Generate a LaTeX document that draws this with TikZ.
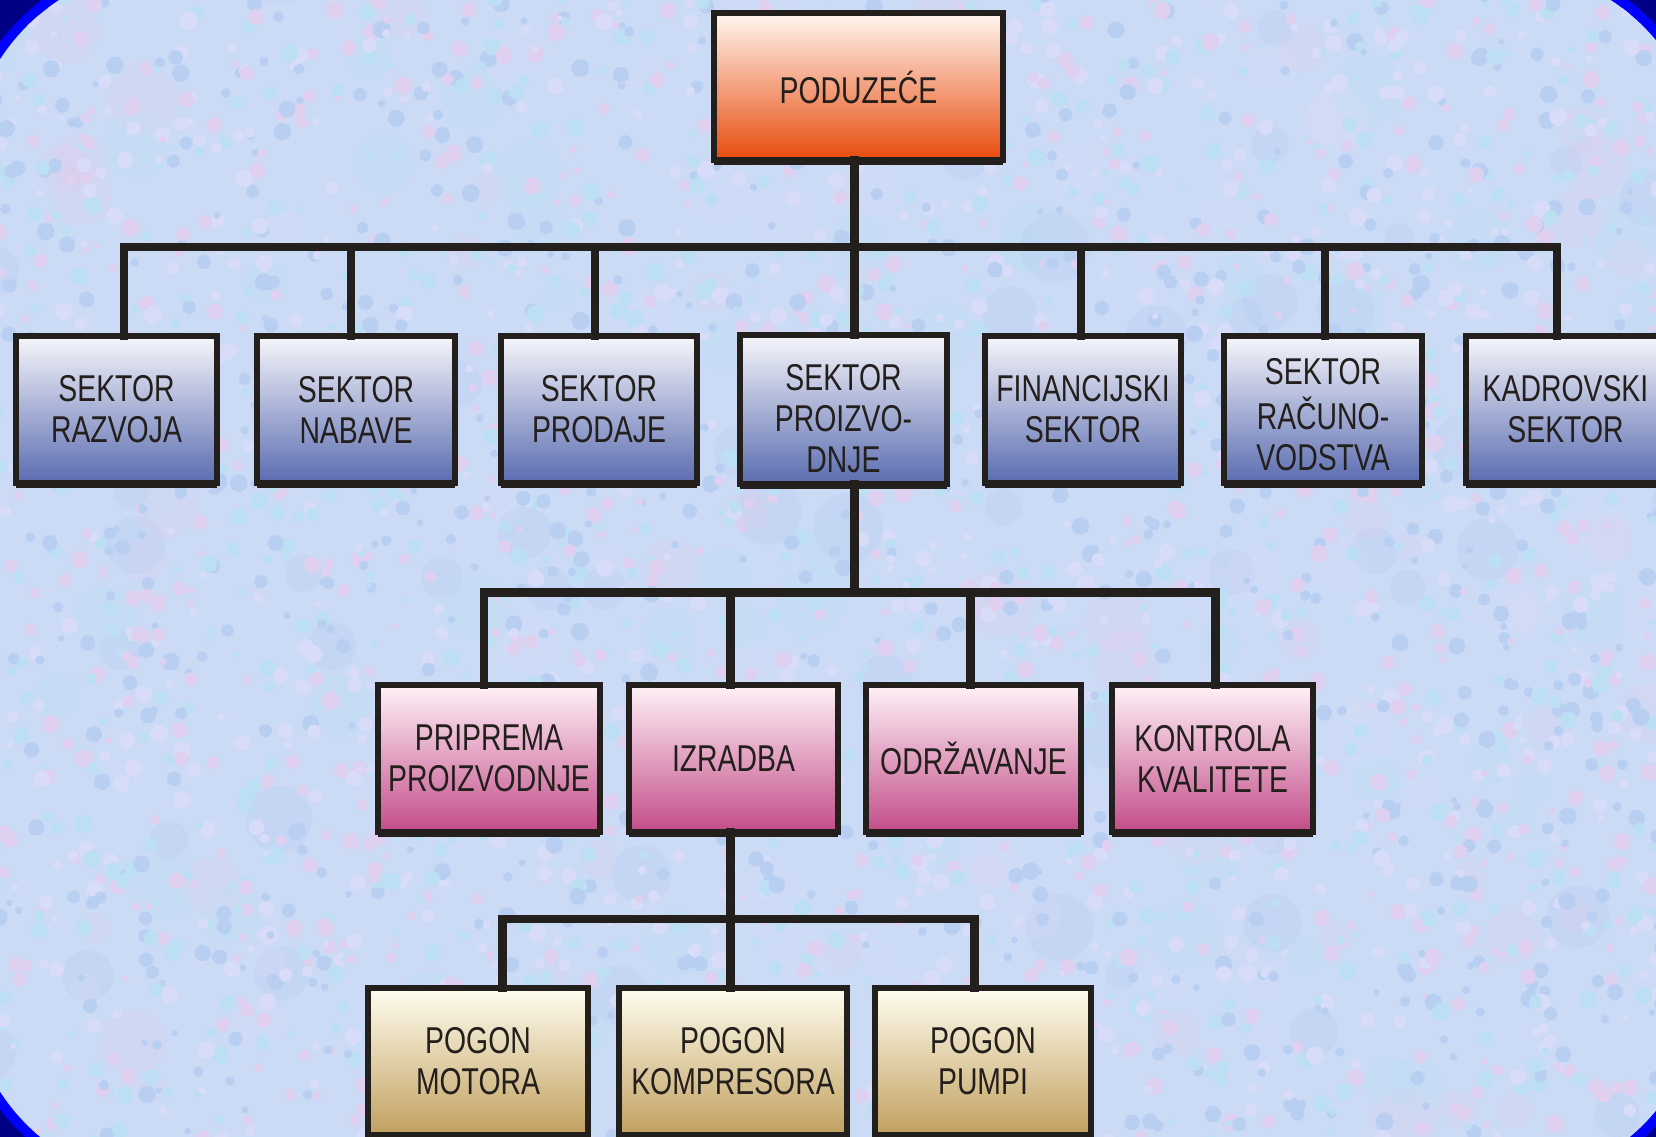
\documentclass[tikz,border=0pt]{standalone}
\usepackage{fontspec}
\setmainfont{Liberation Sans}[FakeStretch=0.76]
\usetikzlibrary{shadows}

\definecolor{ink}{HTML}{231F1C}
\definecolor{navy}{HTML}{000084}
\definecolor{frameblue}{HTML}{0000FF}
\definecolor{paper}{HTML}{CBDBF6}
\definecolor{tex0}{HTML}{F0C4E6}
\definecolor{tex1}{HTML}{AEE2F2}
\definecolor{tex2}{HTML}{A8C2EE}
\definecolor{tex3}{HTML}{E2DCFA}
\colorlet{dot0}{tex0!50!paper}
\colorlet{dot1}{tex1!50!paper}
\colorlet{dot2}{tex2!50!paper}
\colorlet{dot3}{tex3!60!paper}
\definecolor{headtop}{HTML}{FFF6F0}
\definecolor{headbot}{HTML}{E84A0C}
\definecolor{bluetop}{HTML}{F6F6FB}
\definecolor{bluebot}{HTML}{5A6CB0}
\definecolor{pinktop}{HTML}{FFF2F8}
\definecolor{pinkbot}{HTML}{C24C88}
\definecolor{tantop}{HTML}{FFFDF0}
\definecolor{tanbot}{HTML}{C1A05E}

% three-line label pushed slightly below the box centre
\newcommand\droptext[2]{\raisebox{0pt}[\dimexpr\height+#1\relax][\depth]{\begin{tabular}{@{}c@{}}#2\end{tabular}}}

\begin{document}
\begin{tikzpicture}[x=0.75pt,y=-0.75pt,
  box/.style={draw=ink, line width=4.5pt, inner sep=0pt, outer sep=0pt,
    align=center, text=ink, font=\fontsize{28}{30.75}\selectfont,
    minimum height=110.25pt,
    drop shadow={shadow xshift=0pt, shadow yshift=-3.75pt, fill=ink, opacity=1}},
  headbox/.style={box, top color=headtop, bottom color=headbot},
  sectorbox/.style={box, top color=bluetop, bottom color=bluebot},
  unitbox/.style={box, top color=pinktop, bottom color=pinkbot},
  plantbox/.style={box, top color=tantop, bottom color=tanbot},
  conn/.style={draw=ink, line width=6.4pt, line join=miter, line cap=rect}
]
\useasboundingbox (0,0) rectangle (1656,1137);
\clip (0,0) rectangle (1656,1137);

% frame and mottled paper
\fill[navy] (0,0) rectangle (1656,1137);
\fill[frameblue, rounded corners=157.5pt] (-42,-42) rectangle (1712,1193);
\begin{scope}
  \clip[rounded corners=150pt] (-32,-32) rectangle (1702,1183);
  \fill[paper] (-40,-40) rectangle (1710,1190);
  \pgfmathsetseed{4711}
  % broad soft patches
  \foreach \i in {1,...,250}{
    \pgfmathsetmacro\xx{rnd*1720-30}
    \pgfmathsetmacro\yy{rnd*1200-30}
    \pgfmathsetmacro\rr{14+rnd*22}
    \pgfmathtruncatemacro\cc{int(rnd*4)}
    \fill[tex\cc, opacity=0.16] (\xx,\yy) circle[radius=\rr];
  }
  % fine grain
  \foreach \i in {1,...,3300}{
    \pgfmathsetmacro\xx{rnd*1700-20}
    \pgfmathsetmacro\yy{rnd*1180-20}
    \pgfmathsetmacro\rr{3+rnd*6}
    \pgfmathtruncatemacro\cc{int(rnd*4)}
    \fill[dot\cc] (\xx,\yy) circle[radius=\rr];
  }
\end{scope}

% boxes
\node[headbox, minimum width=216.75pt] (top) at (858.5,87) {PODUZEĆE};

\node[sectorbox, minimum width=150.75pt] (b1) at (116.5,409.5) {SEKTOR\\RAZVOJA};
\node[sectorbox, minimum width=148.5pt]  (b2) at (356,409.5)   {SEKTOR\\NABAVE};
\node[sectorbox, minimum width=147pt]    (b3) at (599,409.5)   {SEKTOR\\PRODAJE};
\node[sectorbox, minimum width=155.25pt] (b4) at (843.5,409.5) {\droptext{20pt}{SEKTOR\\PROIZVO-\\DNJE}};
\node[sectorbox, minimum width=147pt]    (b5) at (1083,409.5)  {FINANCIJSKI\\SEKTOR};
\node[sectorbox, minimum width=148.5pt]  (b6) at (1323,409.5)  {\droptext{15pt}{SEKTOR\\RAČUNO-\\VODSTVA}};
\node[sectorbox, minimum width=149.25pt] (b7) at (1565.5,409.5){KADROVSKI\\SEKTOR};

\node[unitbox, minimum width=166.5pt]  (p1) at (489,758.5)    {PRIPREMA\\PROIZVODNJE};
\node[unitbox, minimum width=156.75pt] (p2) at (733.5,758.5)  {IZRADBA};
\node[unitbox, minimum width=161.25pt] (p3) at (973.5,758.5)  {ODRŽAVANJE};
\node[unitbox, minimum width=150.75pt] (p4) at (1212.5,758.5) {KONTROLA\\KVALITETE};

\node[plantbox, minimum width=165pt] (t1) at (478,1061.5) {POGON\\MOTORA};
\node[plantbox, minimum width=171pt] (t2) at (733,1061.5) {POGON\\KOMPRESORA};
\node[plantbox, minimum width=162pt] (t3) at (983,1061.5) {POGON\\PUMPI};

% junction points of the connector bars
\coordinate (r1a) at (124,247);
\coordinate (r1b) at (351,247);
\coordinate (r1c) at (595,247);
\coordinate (r1d) at (854.5,247);
\coordinate (r1e) at (1081,247);
\coordinate (r1f) at (1325,247);
\coordinate (r1g) at (1557,247);

\coordinate (r2a) at (484,592.5);
\coordinate (r2b) at (730.5,592.5);
\coordinate (r2c) at (970.5,592.5);
\coordinate (r2d) at (1215.5,592.5);
\coordinate (r2h) at (854.5,592.5);

\coordinate (r3a) at (502.5,919);
\coordinate (r3b) at (730.5,919);
\coordinate (r3c) at (974.5,919);

% connectors: company to sectors
\draw[conn] (top.south -| r1d) -- (r1d);
\draw[conn] (b1.north -| r1a) -- (r1a) -- (r1g) -- (b7.north -| r1g);
\draw[conn] (r1b) -- (r1b |- b2.north);
\draw[conn] (r1c) -- (r1c |- b3.north);
\draw[conn] (r1d) -- (r1d |- b4.north);
\draw[conn] (r1e) -- (r1e |- b5.north);
\draw[conn] (r1f) -- (r1f |- b6.north);

% production sector to its units
\draw[conn] (b4.south -| r2h) -- (r2h);
\draw[conn] (p1.north -| r2a) -- (r2a) -- (r2d) -- (p4.north -| r2d);
\draw[conn] (r2b) -- (r2b |- p2.north);
\draw[conn] (r2c) -- (r2c |- p3.north);

% manufacturing to its plants
\draw[conn] (p2.south -| r3b) -- (r3b);
\draw[conn] (t1.north -| r3a) -- (r3a) -- (r3c) -- (t3.north -| r3c);
\draw[conn] (r3b) -- (r3b |- t2.north);
\end{tikzpicture}
\end{document}
